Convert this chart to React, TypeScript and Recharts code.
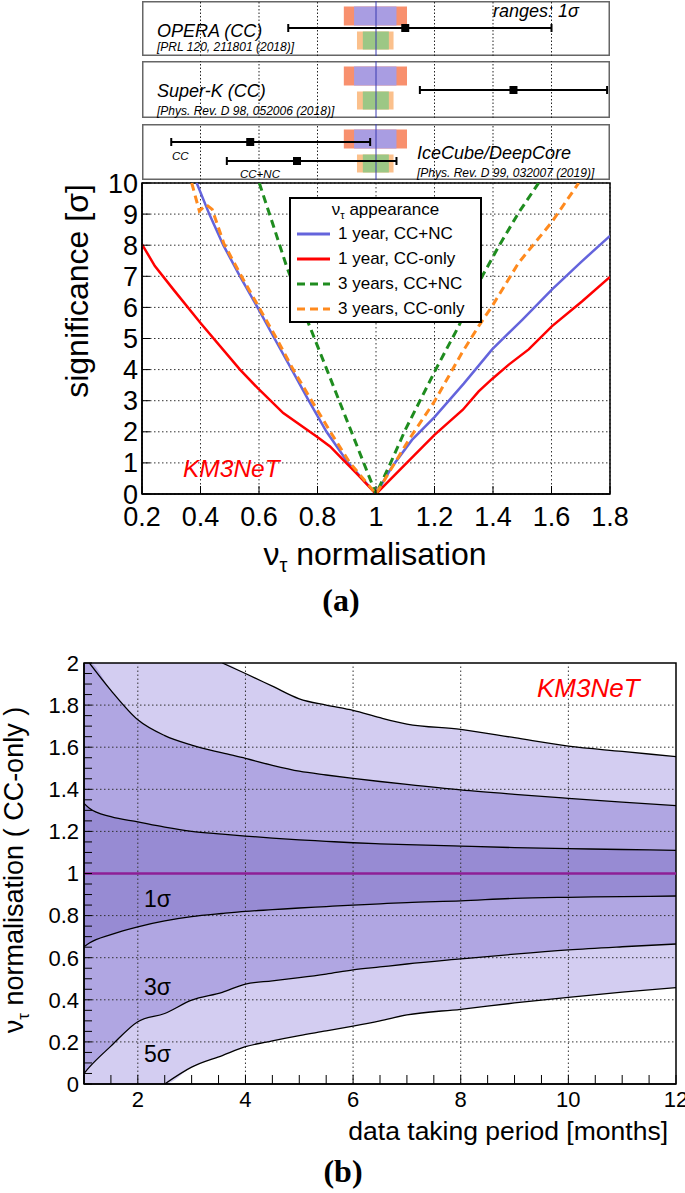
import {
  ComposedChart,
  Line,
  Area,
  Scatter,
  ErrorBar,
  XAxis,
  YAxis,
  CartesianGrid,
  ReferenceArea,
  ReferenceLine,
  Legend,
} from 'recharts';

const SANS = '"Liberation Sans", Arial, Helvetica, sans-serif';
const SERIF = '"Liberation Serif", "Times New Roman", serif';

// ---------- (a) significance vs nu_tau normalisation ----------
const normTicks = [0.2, 0.4, 0.6, 0.8, 1, 1.2, 1.4, 1.6, 1.8];
const sigTicks = [0, 1, 2, 3, 4, 5, 6, 7, 8, 9, 10];

// 1 year, CC+NC
const ccNc1yNorm = [0.387, 0.43, 0.478, 0.535, 0.595, 0.653, 0.712, 0.77, 0.831, 0.905, 1.0, 1.055, 1.123, 1.2, 1.3, 1.397, 1.5, 1.602, 1.7, 1.8];
const ccNc1ySig = [10, 9, 8, 7, 6, 5, 4, 3, 2, 1, 0, 0.88, 1.74, 2.47, 3.55, 4.65, 5.6, 6.58, 7.45, 8.3];
// 1 year, CC-only
const ccOnly1yNorm = [0.2, 0.244, 0.307, 0.4, 0.535, 0.595, 0.683, 0.797, 0.843, 0.877, 0.94, 1.0, 1.1, 1.2, 1.297, 1.351, 1.397, 1.454, 1.522, 1.602, 1.705, 1.8];
const ccOnly1ySig = [8.03, 7.33, 6.58, 5.5, 4.0, 3.41, 2.6, 1.85, 1.53, 1.2, 0.6, 0, 0.95, 1.9, 2.71, 3.3, 3.7, 4.16, 4.65, 5.4, 6.2, 6.98];
// 3 years, CC+NC
const ccNc3yNorm = [0.601, 0.65, 0.695, 0.73, 0.77, 0.832, 0.874, 0.916, 0.958, 1.0, 1.05, 1.1, 1.204, 1.283, 1.363, 1.42, 1.488, 1.556];
const ccNc3ySig = [10, 8.6, 7.3, 6.45, 5.47, 4.0, 3.0, 2.0, 1.0, 0, 1.0, 2.06, 4.0, 5.4, 7.0, 7.97, 9.05, 10];
// 3 years, CC-only
const ccOnly3yNorm = [0.37, 0.396, 0.42, 0.44, 0.48, 0.54, 0.6, 0.66, 0.717, 0.78, 0.844, 0.911, 1.0, 1.112, 1.2, 1.294, 1.351, 1.397, 1.488, 1.6, 1.693];
const ccOnly3ySig = [10, 9.1, 9.3, 9.15, 8.05, 7.0, 6.0, 5.0, 4.0, 3.0, 2.0, 1.0, 0, 1.74, 2.98, 4.54, 5.4, 6.04, 7.44, 8.73, 10];

const zip = (xs: number[], ys: number[]) => xs.map((x, i) => ({ x, s: ys[i] }));

const scanSeries = [
  { name: '1 year, CC+NC', color: '#6464dc', dash: undefined, width: 2.5, data: zip(ccNc1yNorm, ccNc1ySig) },
  { name: '1 year, CC-only', color: '#ff0000', dash: undefined, width: 2.5, data: zip(ccOnly1yNorm, ccOnly1ySig) },
  { name: '3 years, CC+NC', color: '#1f8c1f', dash: '8 5', width: 3, data: zip(ccNc3yNorm, ccNc3ySig) },
  { name: '3 years, CC-only', color: '#ff8a1e', dash: '8 5', width: 3, data: zip(ccOnly3yNorm, ccOnly3ySig) },
];

// ---------- top panels: 1 sigma ranges ----------
const panelGrid = [0.4, 0.6, 0.8, 1.2, 1.4, 1.6];
const ccNc1yRange = [0.925, 1.07];
const ccOnly1yRange = [0.89, 1.106];
const ccNc3yRange = [0.955, 1.044];
const ccOnly3yRange = [0.935, 1.06];

const operaBest = [1.1];
const operaErr = [[0.4, 0.5]];
const superKBest = [1.47];
const superKErr = [[0.32, 0.32]];
const iceCubeBest = [0.57, 0.73]; // CC, CC+NC
const iceCubeErr = [[0.27, 0.41], [0.24, 0.34]];

// ---------- (b) allowed range vs data taking period ----------
const months = [1, 1.1, 1.5, 2, 2.5, 3, 3.57, 4, 4.5, 5, 5.5, 6, 6.5, 7, 8, 9, 10, 11, 12];
const upper5 = [null, null, null, null, null, null, 2.0, 1.95, 1.89, 1.83, 1.8, 1.775, 1.74, 1.71, 1.685, 1.645, 1.605, 1.58, 1.555];
const upper3 = [null, 2.0, 1.87, 1.73, 1.655, 1.61, 1.573, 1.547, 1.514, 1.486, 1.468, 1.452, 1.437, 1.423, 1.397, 1.376, 1.357, 1.339, 1.322];
const upper1 = [1.333, 1.31, 1.27, 1.245, 1.22, 1.2, 1.187, 1.178, 1.168, 1.16, 1.153, 1.146, 1.141, 1.137, 1.13, 1.123, 1.118, 1.114, 1.11];
const lower1 = [0.652, 0.67, 0.71, 0.747, 0.775, 0.795, 0.81, 0.82, 0.828, 0.836, 0.843, 0.85, 0.856, 0.862, 0.87, 0.882, 0.887, 0.89, 0.893];
const lower3 = [0.05, 0.08, 0.18, 0.296, 0.335, 0.398, 0.435, 0.475, 0.49, 0.505, 0.522, 0.542, 0.556, 0.57, 0.594, 0.617, 0.637, 0.652, 0.665];
const lower5 = [null, null, null, null, 0, 0.08, 0.135, 0.177, 0.205, 0.23, 0.252, 0.275, 0.3, 0.328, 0.355, 0.385, 0.412, 0.436, 0.458];

const bandRows = months.map((m, i) => ({
  m,
  band5: [lower5[i] ?? 0, upper5[i] ?? 2],
  band3: [lower3[i], upper3[i] ?? 2],
  band1: [lower1[i], upper1[i]],
  upper5: upper5[i],
  upper3: upper3[i],
  upper1: upper1[i],
  lower1: lower1[i],
  lower3: lower3[i],
  lower5: lower5[i],
}));
const contourKeys = ['upper5', 'upper3', 'upper1', 'lower1', 'lower3', 'lower5'];

const monthTicks = Array.from({ length: 23 }, (_, k) => 1 + k * 0.5);
const normTicksB = Array.from({ length: 41 }, (_, k) => Math.round(k * 5) / 100);
const gridMonths = [2, 4, 6, 8, 10];
const gridNormB = [0.2, 0.4, 0.6, 0.8, 1.2, 1.4, 1.6, 1.8];

const MonthTick = (props: any) => {
  const { x, y, payload } = props;
  const v = payload.value;
  if (v % 2 !== 0) return <g />;
  return (
    <text x={x} y={y} dy="0.71em" textAnchor="middle" fontSize={22} fontFamily={SANS} fill="#000">
      {v}
    </text>
  );
};

const NormTick = (props: any) => {
  const { x, y, payload } = props;
  const k = Math.round(payload.value * 100);
  if (k % 20 !== 0) return <g />;
  return (
    <text x={x} y={y} dy="0.355em" textAnchor="end" fontSize={22} fontFamily={SANS} fill="#000">
      {String(k / 100)}
    </text>
  );
};

function AppearanceLegend() {
  return (
    <div
      style={{
        width: 193,
        height: 126,
        boxSizing: 'border-box',
        border: '2px solid #000',
        background: '#fff',
        fontFamily: SANS,
        fontSize: 17,
        color: '#000',
      }}
    >
      <div style={{ height: 22, lineHeight: '22px', textAlign: 'center' }}>
        ν<span style={{ fontSize: 11, position: 'relative', top: 4 }}>τ</span> appearance
      </div>
      {scanSeries.map(s => (
        <div key={s.name} style={{ height: 25, display: 'flex', alignItems: 'center', whiteSpace: 'nowrap' }}>
          <svg width={47} height={10}>
            <line x1={6} x2={39} y1={5} y2={5} stroke={s.color} strokeWidth={3} strokeDasharray={s.dash} />
          </svg>
          <span>{s.name}</span>
        </div>
      ))}
    </div>
  );
}

type PanelProps = {
  top: number;
  height: number;
  best: number[];
  err: number[][];
  barRows: number[];
};

function RangePanel({ top, height, best, err, barRows }: PanelProps) {
  const points = best.map((x, i) => ({ x, y: barRows[i], err: err[i] }));
  const upRow = [5.5, 24.5];
  const lowRow = [30.5, 48.5];
  return (
    <div style={{ position: 'absolute', left: 142, top }}>
      <ComposedChart width={468} height={height} margin={{ top: 0, right: 0, bottom: 0, left: 0 }}>
        <XAxis type="number" dataKey="x" domain={[0.2, 1.8]} allowDataOverflow hide />
        <YAxis type="number" dataKey="y" domain={[0, height]} reversed allowDataOverflow hide />
        {panelGrid.map(v => (
          <ReferenceLine key={v} x={v} stroke="#222" strokeDasharray="1.5 2" />
        ))}
        <ReferenceArea x1={ccOnly1yRange[0]} x2={ccOnly1yRange[1]} y1={upRow[0]} y2={upRow[1]} fill="#f8906e" fillOpacity={1} />
        <ReferenceArea x1={ccNc1yRange[0]} x2={ccNc1yRange[1]} y1={upRow[0]} y2={upRow[1]} fill="#a99de2" fillOpacity={1} />
        <ReferenceArea x1={ccOnly3yRange[0]} x2={ccOnly3yRange[1]} y1={lowRow[0]} y2={lowRow[1]} fill="#fbc08c" fillOpacity={1} />
        <ReferenceArea x1={ccNc3yRange[0]} x2={ccNc3yRange[1]} y1={lowRow[0]} y2={lowRow[1]} fill="#9cc785" fillOpacity={1} />
        <ReferenceLine x={1} stroke="#3b3bb0" strokeWidth={1} />
        <ReferenceArea x1={0.2} x2={1.8} y1={0} y2={height} fill="none" stroke="#666" strokeWidth={3} />
        <Scatter data={points} shape="square" fill="#000" isAnimationActive={false}>
          <ErrorBar dataKey="err" direction="x" width={4} stroke="#000" strokeWidth={2} isAnimationActive={false} />
        </Scatter>
      </ComposedChart>
    </div>
  );
}

function Annotations() {
  return (
    <svg
      width={685}
      height={1193}
      style={{ position: 'absolute', left: 0, top: 0, pointerEvents: 'none' }}
      fontFamily={SANS}
      fill="#000"
    >
      <g fontStyle="italic">
        <text x={493} y={16.5} fontSize={18}>ranges: 1σ</text>
        <text x={157} y={37} fontSize={18}>OPERA (CC)</text>
        <text x={157} y={51} fontSize={12}>[PRL 120, 211801 (2018)]</text>
        <text x={157} y={96.5} fontSize={18}>Super-K (CC)</text>
        <text x={157} y={115} fontSize={12}>[Phys. Rev. D 98, 052006 (2018)]</text>
        <text x={417} y={159} fontSize={18}>IceCube/DeepCore</text>
        <text x={417} y={177} fontSize={12}>[Phys. Rev. D 99, 032007 (2019)]</text>
        <text x={172} y={160} fontSize={11.5}>CC</text>
        <text x={240} y={177.5} fontSize={11.5}>CC+NC</text>
      </g>

      <text transform="translate(88,291) rotate(-90)" textAnchor="middle" fontSize={32}>
        significance [σ]
      </text>
      <text x={375} y={565} textAnchor="middle" fontSize={32}>
        ν<tspan fontSize={20} dy={7}>τ</tspan>
        <tspan dy={-7}> normalisation</tspan>
      </text>
      <text x={341} y={611} textAnchor="middle" fontSize={32} fontFamily={SERIF} fontWeight="bold">
        (a)
      </text>
      <text x={183} y={477} fontSize={24.5} fontStyle="italic" fill="#ff0000">
        KM3NeT
      </text>

      <text x={537} y={697} fontSize={26} fontStyle="italic" fill="#ff0000">
        KM3NeT
      </text>
      <text x={144} y={907} fontSize={23}>1σ</text>
      <text x={144} y={995} fontSize={23}>3σ</text>
      <text x={144} y={1062} fontSize={23}>5σ</text>
      <text x={668} y={1140} textAnchor="end" fontSize={26.5}>
        data taking period [months]
      </text>
      <text transform="translate(23,870) rotate(-90)" textAnchor="middle" fontSize={27}>
        ν<tspan fontSize={17} dy={6}>τ</tspan>
        <tspan dy={-6}> normalisation ( CC-only )</tspan>
      </text>
      <text x={343} y={1182} textAnchor="middle" fontSize={32} fontFamily={SERIF} fontWeight="bold">
        (b)
      </text>
    </svg>
  );
}

export default function App() {
  return (
    <div
      style={{
        position: 'absolute',
        left: 0,
        top: 0,
        width: 685,
        height: 1193,
        background: '#fff',
        overflow: 'hidden',
        fontFamily: SANS,
      }}
    >
      <RangePanel top={1} height={55} best={operaBest} err={operaErr} barRows={[27]} />
      <RangePanel top={61} height={57} best={superKBest} err={superKErr} barRows={[29]} />
      <RangePanel top={124} height={56} best={iceCubeBest} err={iceCubeErr} barRows={[18, 37]} />

      {/* (a) significance scan */}
      <div style={{ position: 'absolute', left: 0, top: 170 }}>
        <ComposedChart width={685} height={470} margin={{ top: 13, right: 75, bottom: 106, left: 0 }}>
          <CartesianGrid stroke="#333" strokeDasharray="1.5 2.5" />
          <XAxis
            type="number"
            dataKey="x"
            domain={[0.2, 1.8]}
            ticks={normTicks}
            interval={0}
            allowDataOverflow
            height={40}
            tickSize={-8}
            tickMargin={21}
            tickFormatter={(v: number) => String(v)}
            tick={{ fontSize: 27, fill: '#000', fontFamily: SANS }}
            axisLine={{ stroke: '#000', strokeWidth: 1.5 }}
            tickLine={{ stroke: '#000' }}
          />
          <YAxis
            type="number"
            domain={[0, 10]}
            ticks={sigTicks}
            interval={0}
            allowDataOverflow
            width={142}
            tickSize={-8}
            tickMargin={12}
            tick={{ fontSize: 27, fill: '#000', fontFamily: SANS }}
            axisLine={{ stroke: '#000', strokeWidth: 1.5 }}
            tickLine={{ stroke: '#000' }}
          />
          <ReferenceArea x1={0.2} x2={1.8} y1={0} y2={10} fill="none" stroke="#000" strokeWidth={1.5} />
          {scanSeries.map(s => (
            <Line
              key={s.name}
              data={s.data}
              dataKey="s"
              name={s.name}
              type="linear"
              stroke={s.color}
              strokeWidth={s.width}
              strokeDasharray={s.dash}
              dot={false}
              isAnimationActive={false}
            />
          ))}
          <Legend
            layout="horizontal"
            verticalAlign="middle"
            align="center"
            wrapperStyle={{ left: 289, top: 27, width: 193, height: 126 }}
            content={() => <AppearanceLegend />}
          />
        </ComposedChart>
      </div>

      {/* (b) allowed normalisation vs time */}
      <div style={{ position: 'absolute', left: 0, top: 640 }}>
        <ComposedChart width={685} height={553} data={bandRows} margin={{ top: 23, right: 9, bottom: 69, left: 0 }}>
          <XAxis
            type="number"
            dataKey="m"
            domain={[1, 12]}
            ticks={monthTicks}
            interval={0}
            allowDataOverflow
            height={40}
            tickSize={-9}
            tickMargin={16}
            tick={(p: any) => <MonthTick {...p} />}
            axisLine={{ stroke: '#000', strokeWidth: 1.5 }}
            tickLine={{ stroke: '#000' }}
          />
          <YAxis
            type="number"
            domain={[0, 2]}
            ticks={normTicksB}
            interval={0}
            allowDataOverflow
            width={84}
            tickSize={-8}
            tickMargin={13}
            tick={(p: any) => <NormTick {...p} />}
            axisLine={{ stroke: '#000', strokeWidth: 1.5 }}
            tickLine={{ stroke: '#000' }}
          />
          <Area dataKey="band5" type="monotone" fill="#d3cdf1" fillOpacity={1} stroke="none" isAnimationActive={false} />
          <Area dataKey="band3" type="monotone" fill="#b0a6e2" fillOpacity={1} stroke="none" isAnimationActive={false} />
          <Area dataKey="band1" type="monotone" fill="#978bd3" fillOpacity={1} stroke="none" isAnimationActive={false} />
          {gridMonths.map(v => (
            <ReferenceLine key={`gx${v}`} x={v} stroke="#333" strokeDasharray="1.5 2.5" />
          ))}
          {gridNormB.map(v => (
            <ReferenceLine key={`gy${v}`} y={v} stroke="#333" strokeDasharray="1.5 2.5" />
          ))}
          {contourKeys.map(k => (
            <Line
              key={k}
              dataKey={k}
              type="monotone"
              stroke="#000"
              strokeWidth={1.3}
              dot={false}
              connectNulls={false}
              isAnimationActive={false}
            />
          ))}
          <ReferenceLine y={1} stroke="#8e1f96" strokeWidth={2.5} />
          <ReferenceArea x1={1} x2={12} y1={0} y2={2} fill="none" stroke="#000" strokeWidth={1.5} />
        </ComposedChart>
      </div>

      <Annotations />
    </div>
  );
}
